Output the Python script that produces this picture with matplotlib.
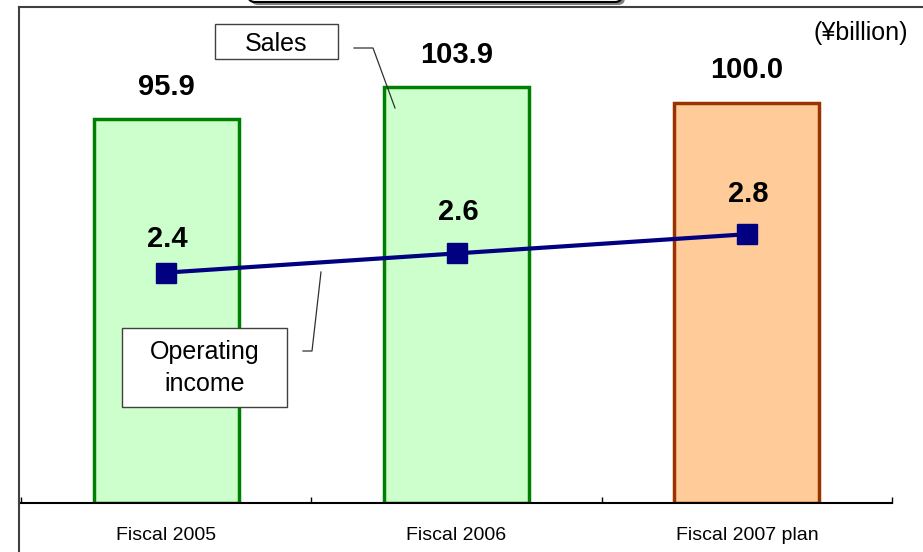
import numpy as np
import matplotlib.pyplot as plt
from matplotlib.patches import Rectangle, FancyBboxPatch
from matplotlib.lines import Line2D
from matplotlib.transforms import IdentityTransform

# ---- data ------------------------------------------------------------------
categories = ['Fiscal 2005', 'Fiscal 2006', 'Fiscal 2007 plan']
sales = [95.9, 103.9, 100.0]
op_income = [2.4, 2.6, 2.8]
sales_labels = ['95.9', '103.9', '100.0']
op_labels = ['2.4', '2.6', '2.8']

# ---- style -----------------------------------------------------------------
W, H = 923, 552
plt.rcParams['font.family'] = ['Liberation Sans', 'DejaVu Sans']
fills = ['#CCFFCC', '#CCFFCC', '#FFCC99']
edges = ['#008000', '#008000', '#993300']
op_offsets = [24, 30, 29]   # label offsets above markers (points)


def fx(x):
    return x / W


def fy(y):
    return 1 - y / H


fig = plt.figure(figsize=(W / 100, H / 100), dpi=100)
ax = fig.add_axes([fx(21), fy(503), (892 - 21) / W, (503 - 23) / H])

x = np.arange(len(categories))
ax.bar(x, sales, width=0.5, color=fills, edgecolor=edges, linewidth=2.5, zorder=2)
ax.set_xlim(-0.5, len(categories) - 0.5)
ax.set_ylim(0, 120)

for i, (v, lab) in enumerate(zip(sales, sales_labels)):
    ax.annotate(lab, xy=(i, v), xytext=(0, 23.5), textcoords='offset points',
                ha='center', va='center', fontsize=21, fontweight='bold')

ax.set_xticks(x, categories, fontsize=14)
ax.set_xticks(np.arange(len(categories) + 1) - 0.5, minor=True)
ax.tick_params(axis='x', which='major', length=0, pad=17)
ax.tick_params(axis='x', which='minor', direction='in', length=4.5, width=1)
ax.set_yticks([])
for s in ['left', 'right', 'top']:
    ax.spines[s].set_visible(False)
ax.spines['bottom'].set_linewidth(1.5)
ax.spines['bottom'].set_zorder(3)

# operating income on secondary scale
ax2 = ax.twinx()
ax2.plot(x, op_income, color='#000080', lw=3, marker='s', ms=14,
         markerfacecolor='#000080', markeredgecolor='#000080', zorder=3)
ax2.set_ylim(0, 5)
ax2.set_yticks([])
for s in ['left', 'right', 'top', 'bottom']:
    ax2.spines[s].set_visible(False)
for i, (v, lab) in enumerate(zip(op_income, op_labels)):
    ax2.annotate(lab, xy=(i, v), xytext=(1, op_offsets[i]), textcoords='offset points',
                 ha='center', va='center', fontsize=21, fontweight='bold')

# chart frame (cut off at right / bottom)
fig.add_artist(Line2D([fx(19), fx(19)], [fy(7), 0], transform=fig.transFigure,
                      color='#404040', lw=1.5))
fig.add_artist(Line2D([fx(19), 1], [fy(7), fy(7)], transform=fig.transFigure,
                      color='#404040', lw=1.5))

# cut-off title box at the top
idt = IdentityTransform()
fig.add_artist(FancyBboxPatch((251, H - 5), 374, 40, boxstyle='round,pad=0,rounding_size=7',
                              transform=idt, facecolor='#808080', edgecolor='none'))
fig.add_artist(FancyBboxPatch((248, H - 2), 374, 40, boxstyle='round,pad=0,rounding_size=7',
                              transform=idt, facecolor='white', edgecolor='black', lw=1.5))

# unit
fig.text(fx(861), fy(33), '(¥billion)', ha='center', va='center', fontsize=18)

# callout boxes
fig.add_artist(Rectangle((fx(215), fy(59)), (338 - 215) / W, (59 - 24) / H,
                         transform=fig.transFigure, facecolor='white',
                         edgecolor='#404040', lw=1))
fig.text(fx(276.5), fy(44), 'Sales', ha='center', va='center', fontsize=18)
fig.add_artist(Line2D([fx(354), fx(373), fx(395)], [fy(48), fy(48), fy(108)],
                      transform=fig.transFigure, color='#303030', lw=0.9))

fig.add_artist(Rectangle((fx(122), fy(407)), (287 - 122) / W, (407 - 328) / H,
                         transform=fig.transFigure, facecolor='white',
                         edgecolor='#404040', lw=1))
fig.text(fx(204.5), fy(368), 'Operating\nincome', ha='center', va='center',
         fontsize=18, linespacing=1.4)
fig.add_artist(Line2D([fx(303), fx(312), fx(321)], [fy(351), fy(351), fy(272)],
                      transform=fig.transFigure, color='#303030', lw=0.9))

fig.savefig('out.png', dpi=100)
